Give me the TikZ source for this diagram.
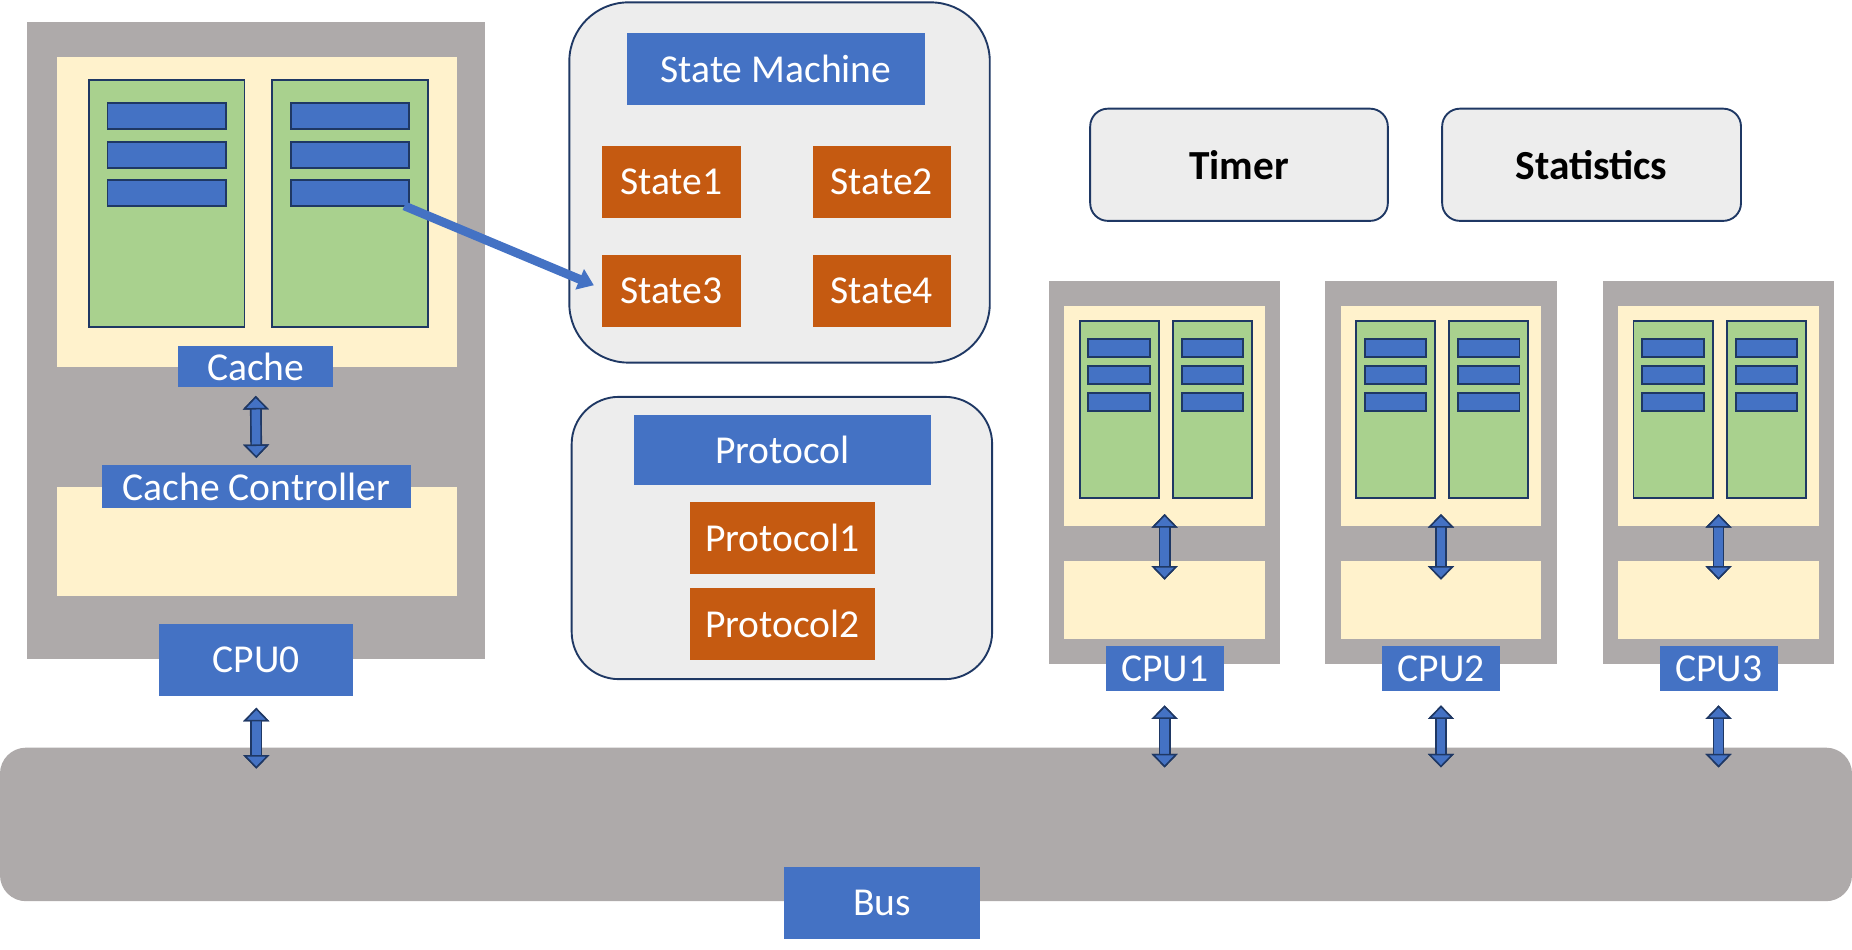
\documentclass[tikz,border=0pt]{standalone}
\usepackage{fontspec}
\setmainfont{Carlito}
\usetikzlibrary{arrows.meta}
\definecolor{cgray}{HTML}{AEAAAA}
\definecolor{cream}{HTML}{FFF2CC}
\definecolor{cgreen}{HTML}{A9D18E}
\definecolor{mblue}{HTML}{4472C4}
\definecolor{navy}{HTML}{1F3864}
\definecolor{corange}{HTML}{C55A11}
\definecolor{lgray}{HTML}{EDEDED}
\newcommand{\lbl}{\fontsize{33.5}{38}\selectfont}
\newcommand{\lblb}{\fontsize{35}{40}\selectfont\bfseries}
\tikzset{sz/.style 2 args={minimum width=#1pt, minimum height=#2pt},
  box/.style={shape=rectangle, inner sep=0},
  cpu/.style={box, fill=cgray}, mem/.style={box, fill=cream},
  col/.style={box, fill=cgreen, draw=navy, line width=1.6pt},
  cell/.style={box, fill=mblue, draw=navy, line width=1.6pt},
  tag/.style={box, fill=mblue, text=white, font=\lbl},
  stbox/.style={box, fill=corange, text=white, font=\lbl},
  panel/.style={box, fill=lgray, draw=navy, line width=1.6pt},
  bitips/.style={{Triangle[length=11.5pt, width=22pt, line width=1.3pt, fill=mblue, color=navy]}-{Triangle[length=11.5pt, width=22pt, line width=1.3pt, fill=mblue, color=navy]}},
  biarrow/.style={draw=mblue, line width=7.2pt, bitips,
    preaction={draw=navy, line width=10pt, bitips}},
  fatarrow/.style={draw=mblue, line width=7.5pt, -{Triangle[length=13pt, width=18pt]}}}

\begin{document}
\begin{tikzpicture}[x=1pt, y=-1pt]
    \useasboundingbox (0,0) rectangle (1568,803.5);
    \node [cpu, sz={1568}{130}, rounded corners=22pt] (bus) at (784,698) {};
    \node [tag, sz={166}{61}] (bus-t) at (747,764.5) {Bus};
    % CPU0
    \node [cpu, sz={388}{539}] (c0) at (217,288.5) {};
    \node [mem, sz={339}{263}] (c0-m) at (217.5,179.5) {};
    \node [mem, sz={339}{93}] (c0-k) at (217.5,458.5) {};
    \foreach \cx [count=\j] in {141,296.5}{
        \node [col, sz={132}{209}] at (\cx,172.5) (c0-w-\j) {};
        \foreach \cy [count=\i] in {98.5,131,163.5}
        \node [cell, sz={100}{22}] at (\cx,\cy) (c0-l-\j-\i) {};
    }
    \node [tag, sz={131}{35}] (cache) at (216.5,310.5) {Cache};
    \node [tag, sz={262}{36}] (ctrl) at (217,412) {Cache Controller};
    \node [tag, sz={164}{61}] (cpu-0) at (217,558.5) {CPU0};
    \draw [biarrow] ([yshift=-7pt]cache.south) -- ([yshift=6pt]ctrl.north);
    \draw [biarrow] ([yshift=-10pt]cpu-0.south) -- ([yshift=-18pt]cpu-0.south |- bus.north);
    % state machine and protocol
    \node [panel, sz={356}{305}, rounded corners=50pt] (sm) at (660,154.5) {};
    \node [tag, sz={252}{61}] (sm-t) at (657,58.5) {State Machine};
    \foreach \sx/\sy [count=\i] in {568.5/154, 746.5/154, 568.5/246.5, 746.5/246.5}
    \node [stbox, sz={117}{61}] (s-\i) at (\sx,\sy) {State\i};
    \node [panel, sz={356}{239}, rounded corners=40pt] (pr) at (662,455.5) {};
    \node [tag, sz={251}{60}] (pr-t) at (662.5,381) {Protocol};
    \foreach \py [count=\i] in {455.5,528.5}
    \node [stbox, sz={157}{61}] (p-\i) at (662.5,\py) {Protocol\i};
    \node [panel, sz={252}{95}, rounded corners=15pt, font=\lblb] (timer) at (1049,139.5) {Timer};
    \node [panel, sz={253}{95}, rounded corners=15pt, font=\lblb] (stats) at (1347.5,139.5) {Statistics};
    % CPU1..3
    \foreach \cx [count=\n] in {986,1220,1455}{
        \node [cpu, sz={196}{324}] (c\n) at (\cx,400) {};
        \node [mem, sz={170}{186}] (c\n-m) at (\cx,352) {};
        \node [mem, sz={170}{66}] (c\n-k) at (\cx,508) {};
        \foreach \dx [count=\j] in {-38.5,40.5}{
            \node [col, sz={67}{150}] (c\n-w-\j) at (\cx+\dx,347) {};
            \foreach \cy [count=\i] in {294.5,317.5,340.5}
            \node [cell, sz={52}{15}] (c\n-l-\j-\i) at (\cx+\dx,\cy) {};
        }
        \node [tag, sz={100}{38}] (cpu-\n) at (\cx,566) {CPU\n};
        \draw [biarrow] ([yshift=10pt]c\n-m.south) -- ([yshift=-16pt]c\n-k.north);
        \draw [biarrow] ([yshift=-12pt]cpu-\n.south) -- ([yshift=-17pt]cpu-\n.south |- bus.north);
    }
    \draw [fatarrow] ([xshift=-5pt, yshift=1pt]c0-l-2-3.south east) -- ([xshift=-7pt, yshift=5pt]s-3.west);
\end{tikzpicture}
\end{document}
